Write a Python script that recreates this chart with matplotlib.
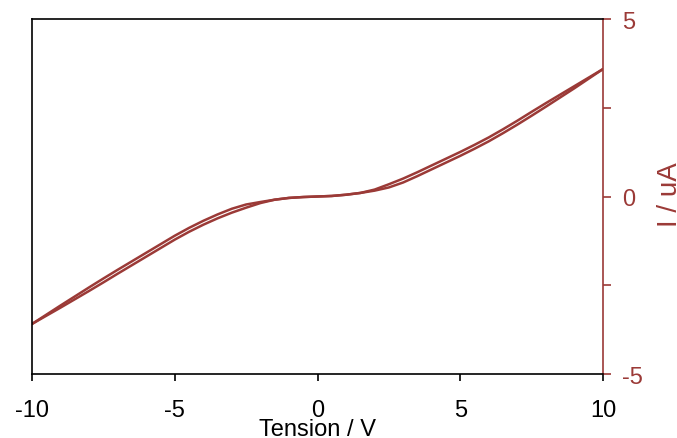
import matplotlib
matplotlib.use("Agg")
import matplotlib.pyplot as plt
from matplotlib.ticker import MultipleLocator

plt.rcParams['font.family'] = ['Liberation Sans', 'DejaVu Sans']

# Voltage sweep (V)
voltage = [-10, -9.5, -9, -8.5, -8, -7.5, -7, -6.5, -6, -5.5, -5, -4.5, -4, -3.5, -3,
           -2.5, -2, -1.5, -1, -0.5, 0, 0.5, 1, 1.5, 2, 2.5, 3, 3.5, 4, 4.5, 5,
           5.5, 6, 6.5, 7, 7.5, 8, 8.5, 9, 9.5, 10]

# Current, first sweep branch (uA)
current_up = [-3.59, -3.33, -3.07, -2.815, -2.56, -2.31, -2.065, -1.825, -1.585, -1.345, -1.105,
              -0.885, -0.685, -0.505, -0.345, -0.225, -0.155, -0.09, -0.04, -0.015, 0.0,
              0.015, 0.05, 0.10, 0.195, 0.345, 0.505, 0.685, 0.875, 1.065, 1.255,
              1.455, 1.665, 1.895, 2.135, 2.385, 2.63, 2.87, 3.11, 3.35, 3.59]

# Current, return sweep branch (uA)
current_down = [-3.59, -3.36, -3.13, -2.895, -2.66, -2.42, -2.175, -1.935, -1.695, -1.455, -1.215,
                -0.995, -0.795, -0.615, -0.455, -0.315, -0.185, -0.09, -0.04, -0.015, 0.0,
                0.015, 0.05, 0.10, 0.165, 0.255, 0.395, 0.575, 0.765, 0.955, 1.145,
                1.345, 1.555, 1.785, 2.025, 2.275, 2.53, 2.79, 3.05, 3.32, 3.59]

x_ticks = [-10, -5, 0, 5, 10]
y_ticks = [-5, 0, 5]

red = '#9b3a37'

fig = plt.figure(figsize=(6.77, 4.39), dpi=100)
ax = fig.add_axes([32/677, 64/439, (603-32)/677, (375-20)/439])

ax.plot(voltage, current_up, color=red, lw=1.8, solid_capstyle='round')
ax.plot(voltage, current_down, color=red, lw=1.8, solid_capstyle='round')

ax.set_xlim(-10, 10)
ax.set_ylim(-5, 5)

for s in ['left', 'top', 'bottom']:
    ax.spines[s].set_color('black')
    ax.spines[s].set_linewidth(1.2)
ax.spines['right'].set_color(red)
ax.spines['right'].set_linewidth(1.2)

ax.set_xticks(x_ticks)
ax.set_xticklabels([str(t) for t in x_ticks])
ax.tick_params(axis='x', direction='out', length=5, width=1.2, color='black',
               labelsize=17, pad=13, top=False)

ax.yaxis.tick_right()
ax.set_yticks(y_ticks)
ax.set_yticklabels([str(t) for t in y_ticks])
ax.yaxis.set_minor_locator(MultipleLocator(2.5))
ax.tick_params(axis='y', which='both', direction='out', length=6, width=1.2,
               color=red, labelcolor=red, labelsize=17, pad=8, left=False, right=True)

ax.set_xlabel('Tension / V', fontsize=17, labelpad=-2)
fig.text(657/677, 1 - 195/439, 'I / uA', rotation=90, ha='left', va='center',
         fontsize=20, color=red)

fig.savefig('out.png', dpi=100)
